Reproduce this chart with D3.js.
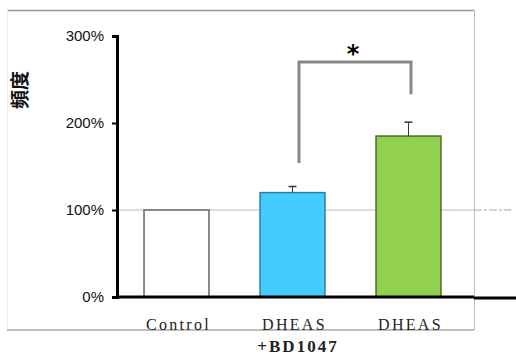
<!DOCTYPE html>
<html>
<head>
  <meta charset="utf-8">
  <title>頻度</title>
  <style>
    body { margin: 0; background: #fff; }
    svg { display: block; }
  </style>
</head>
<body>
  <div id="chart"></div>

  <script src="https://d3js.org/d3.v7.min.js"></script>
  <script>
    // data
    const categories = ["Control", "DHEAS", "DHEAS2"];
    const categoryLabels = ["Control", "DHEAS", "DHEAS"];
    const values = [100, 120, 185];
    const errors = [0, 7, 16];
    const barColors = ["#ffffff", "#44ccff", "#92d050"];
    const barStrokes = ["#666666", "#2a7fa0", "#4f6b28"];
    const yTicks = [0, 100, 200, 300];

    const width = 516, height = 358;
    const svg = d3.select("#chart").append("svg")
      .attr("width", width)
      .attr("height", height);

    // outer frame
    svg.append("line").attr("x1", 7).attr("x2", 474).attr("y1", 10.5).attr("y2", 10.5)
      .attr("stroke", "#999").attr("stroke-width", 1.5);
    svg.append("line").attr("x1", 474.5).attr("x2", 474.5).attr("y1", 10).attr("y2", 330)
      .attr("stroke", "#bbb").attr("stroke-width", 1);
    svg.append("line").attr("x1", 7.5).attr("x2", 7.5).attr("y1", 10).attr("y2", 330)
      .attr("stroke", "#eee").attr("stroke-width", 1);
    svg.append("line").attr("x1", 7).attr("x2", 474).attr("y1", 330).attr("y2", 330)
      .attr("stroke", "#aaa").attr("stroke-width", 1.5);

    const x = d3.scaleBand()
      .domain(categories)
      .range([117, 468])
      .paddingInner(0.44)
      .paddingOuter(0.233);

    const y = d3.scaleLinear()
      .domain([0, 300])
      .range([297, 36]);

    // 100% reference line
    svg.append("line")
      .attr("x1", 117).attr("x2", 474)
      .attr("y1", y(100)).attr("y2", y(100))
      .attr("stroke", "#bbb").attr("stroke-width", 1);
    svg.append("line")
      .attr("x1", 474).attr("x2", 511)
      .attr("y1", y(100)).attr("y2", y(100))
      .attr("stroke", "#aaa").attr("stroke-width", 1.2)
      .attr("stroke-dasharray", "8,2,3,2");

    // bars
    svg.selectAll(".bar")
      .data(categories)
      .join("rect")
      .attr("class", "bar")
      .attr("x", d => x(d))
      .attr("width", x.bandwidth())
      .attr("y", (d, i) => y(values[i]))
      .attr("height", (d, i) => y(0) - y(values[i]))
      .attr("fill", (d, i) => barColors[i])
      .attr("stroke", (d, i) => barStrokes[i])
      .attr("stroke-width", 1.5);

    // error bars
    categories.forEach((c, i) => {
      if (!errors[i]) return;
      const cx = x(c) + x.bandwidth() / 2;
      svg.append("line")
        .attr("x1", cx).attr("x2", cx)
        .attr("y1", y(values[i])).attr("y2", y(values[i] + errors[i]))
        .attr("stroke", "#333").attr("stroke-width", 1);
      svg.append("line")
        .attr("x1", cx - 4).attr("x2", cx + 4)
        .attr("y1", y(values[i] + errors[i])).attr("y2", y(values[i] + errors[i]))
        .attr("stroke", "#333").attr("stroke-width", 1.5);
    });

    // y axis
    const yAxis = d3.axisLeft(y)
      .tickValues(yTicks)
      .tickSize(5)
      .tickPadding(8)
      .tickFormat(d => d + "%");
    const gy = svg.append("g")
      .attr("transform", "translate(117,0)")
      .call(yAxis);
    gy.select(".domain").attr("stroke", "#000").attr("stroke-width", 3);
    gy.selectAll(".tick line").attr("stroke", "#000").attr("stroke-width", 2);
    gy.selectAll(".tick text")
      .attr("font-family", "Liberation Sans, Arial, sans-serif")
      .attr("font-size", 15)
      .attr("fill", "#111");

    // x axis baseline
    svg.append("line")
      .attr("x1", 116).attr("x2", 474)
      .attr("y1", 297).attr("y2", 297)
      .attr("stroke", "#000").attr("stroke-width", 3);
    svg.append("line")
      .attr("x1", 474).attr("x2", 516)
      .attr("y1", 298).attr("y2", 298)
      .attr("stroke", "#000").attr("stroke-width", 3);

    // category labels
    svg.selectAll(".xlab")
      .data(categories)
      .join("text")
      .attr("class", "xlab")
      .attr("x", d => x(d) + x.bandwidth() / 2 + 2)
      .attr("y", 330)
      .attr("text-anchor", "middle")
      .attr("font-family", "Liberation Serif, DejaVu Serif, serif")
      .attr("font-size", 16)
      .attr("letter-spacing", 2.3)
      .attr("fill", "#222")
      .text((d, i) => categoryLabels[i]);

    svg.append("text")
      .attr("x", 298)
      .attr("y", 352)
      .attr("text-anchor", "middle")
      .attr("font-family", "Liberation Serif, DejaVu Serif, serif")
      .attr("font-weight", "bold")
      .attr("font-size", 17)
      .attr("letter-spacing", 2)
      .attr("fill", "#222")
      .text("+BD1047");

    // significance bracket
    const x1 = 299, x2 = 411;
    svg.append("path")
      .attr("d", `M${x1},${y(154)} V${y(270)} H${x2} V${y(233)}`)
      .attr("fill", "none")
      .attr("stroke", "#888")
      .attr("stroke-width", 3);
    svg.append("text")
      .attr("x", (x1 + x2) / 2 - 2)
      .attr("y", 62)
      .attr("text-anchor", "middle")
      .attr("font-family", "DejaVu Sans, sans-serif")
      .attr("font-weight", "bold")
      .attr("font-size", 24)
      .attr("fill", "#000")
      .text("*");

    // y title, rotated
    svg.append("text")
      .attr("transform", "translate(27,90) rotate(-90)")
      .attr("text-anchor", "middle")
      .attr("font-family", "Noto Sans CJK JP, sans-serif")
      .attr("font-weight", "bold")
      .attr("font-size", 19)
      .attr("fill", "#111")
      .text("頻度");
  </script>
</body>
</html>
